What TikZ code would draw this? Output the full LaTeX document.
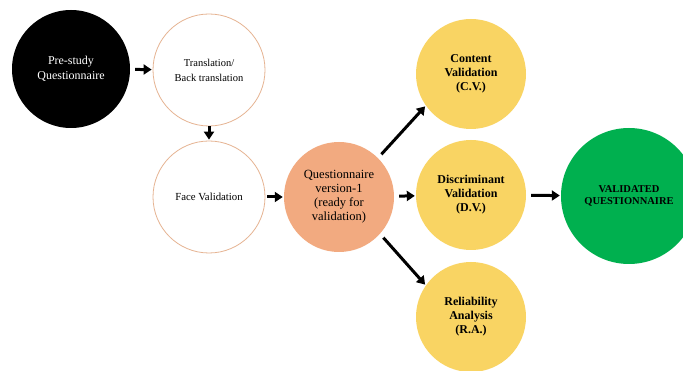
\documentclass[tikz,border=0pt]{standalone}
\usepackage{fontspec}
\setmainfont{Liberation Serif}
\usetikzlibrary{arrows.meta}
\definecolor{cyellow}{HTML}{F9D463}
\definecolor{corange}{HTML}{F2AA80}
\definecolor{cgreen}{HTML}{00B04F}
\definecolor{cborder}{HTML}{E6B493}
\tikzset{
  circ/.style={circle, inner sep=0pt, align=center, text=black},
  flow/.style={line width=3pt, -{Triangle[length=8pt,width=10pt]}, shorten <=5pt, shorten >=1pt},
}
\begin{document}
\begin{tikzpicture}[x=1pt,y=-1pt]
\useasboundingbox (0,0) rectangle (683,371);
\clip (0,0) rectangle (683,371);
\fill[white] (0,0) rectangle (683,371);
\node[circ, fill=black, text=white, minimum size=118pt, font=\fontsize{12}{15}\selectfont] (pre) at (71,69) {Pre-study\\Questionnaire};
\node[circ, draw=cborder, line width=0.8pt, fill=white, minimum size=112pt, font=\fontsize{10.5}{15}\selectfont] (tr) at (209,70) {Translation/\\Back translation};
\node[circ, draw=cborder, line width=0.8pt, fill=white, minimum size=112pt, font=\fontsize{10.8}{13}\selectfont] (fv) at (209,197) {Face Validation};
\node[circ, fill=corange, minimum size=110pt, font=\fontsize{12.5}{14}\selectfont] (q) at (339,197) {Questionnaire\\version-1\\(ready for\\validation)};
\node[circ, fill=cyellow, minimum size=110pt, font=\bfseries\fontsize{12}{14}\selectfont] (cv) at (471,74) {Content\\Validation\\(C.V.)};
\node[circ, fill=cyellow, minimum size=110pt, font=\bfseries\fontsize{12}{14}\selectfont] (dv) at (471,195) {Discriminant\\Validation\\(D.V.)};
\node[circ, fill=cyellow, minimum size=110pt, font=\bfseries\fontsize{12}{14}\selectfont] (ra) at (471,317) {Reliability\\Analysis\\(R.A.)};
\node[circ, fill=cgreen, minimum size=136pt, font=\bfseries\fontsize{10.5}{12}\selectfont] (vq) at (629,196) {VALIDATED\\QUESTIONNAIRE};
\draw[flow] (pre) -- (tr);
\draw[flow, shorten <=0pt] (tr) -- (fv);
\draw[flow, shorten <=2pt] (fv) -- (q);
\draw[flow] (q.45) -- (cv.215);
\draw[flow] (q) -- (dv);
\draw[flow] (q.-42) -- (ra.145);
\draw[flow] (dv) -- (vq);
\end{tikzpicture}
\end{document}
